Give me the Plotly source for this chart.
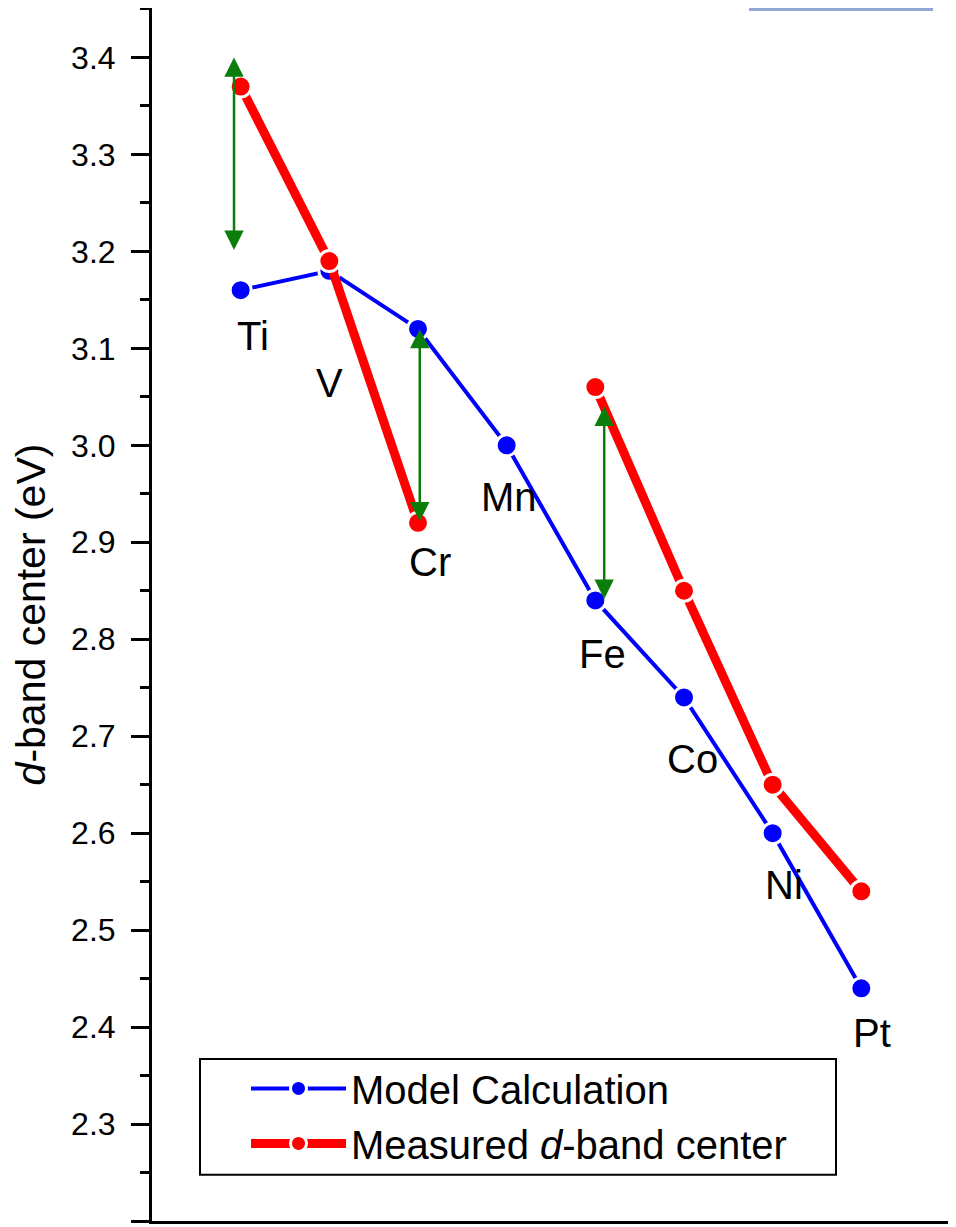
import plotly.graph_objects as go

# ---- data ----
elements = ["Ti", "V", "Cr", "Mn", "Fe", "Co", "Ni", "Pt"]
x_pos = [1, 2, 3, 4, 5, 6, 7, 8]
model_calc = [3.16, 3.18, 3.12, 3.00, 2.84, 2.74, 2.60, 2.44]
measured = [3.37, 3.19, 2.92, None, 3.06, 2.85, 2.65, 2.54]

# double-headed arrows (x, low, high)
arrow_x = [0.925, 3.02, 5.10]
arrow_lo = [3.20, 2.92, 2.84]
arrow_hi = [3.40, 3.12, 3.04]

y_ticks = [2.2, 2.3, 2.4, 2.5, 2.6, 2.7, 2.8, 2.9, 3.0, 3.1, 3.2, 3.3, 3.4]

# label offsets from model point in px (dx, dy downwards)
label_dx = [12, 0, 12, 2, 7, 8, 11, 11]
label_dy = [46, 112, 233, 52, 54, 62, 52, 45]

FONT = "Liberation Sans, Arial, Helvetica, sans-serif"
BLUE = "#0000FF"
RED = "#FF0000"
GREEN = "#0A7D0A"

# page has an 8px body margin; plot area spans window x 152..950, y 8..1213
PL, PR, PT, PB = 152, 950, 8, 1213


def px(X):
    return (X - PL) / (PR - PL)


def py(Y):
    return (PB - Y) / (PB - PT)


fig = go.Figure()

fig.add_trace(go.Scatter(
    x=x_pos, y=model_calc, mode="lines+markers", name="Model Calculation",
    line=dict(color=BLUE, width=4),
    marker=dict(color=BLUE, size=21, line=dict(color="white", width=3)),
))
fig.add_trace(go.Scatter(
    x=x_pos, y=measured, mode="lines+markers", name="Measured <i>d</i>-band center",
    line=dict(color=RED, width=9), connectgaps=False,
    marker=dict(color=RED, size=21, line=dict(color="white", width=3)),
))

annotations = []
for xa, lo, hi in zip(arrow_x, arrow_lo, arrow_hi):
    annotations.append(dict(
        x=xa, y=hi, ax=xa, ay=lo, xref="x", yref="y", axref="x", ayref="y",
        showarrow=True, arrowhead=2, startarrowhead=2, arrowside="end+start",
        arrowwidth=2.5, arrowsize=1.55, startarrowsize=1.55, arrowcolor=GREEN,
        standoff=0, startstandoff=0, text="",
    ))

for name, xv, yv, dx, dy in zip(elements, x_pos, model_calc, label_dx, label_dy):
    annotations.append(dict(
        x=xv, y=yv, xref="x", yref="y", text=name, showarrow=False,
        xshift=dx, yshift=-dy, xanchor="center", yanchor="middle",
        font=dict(family=FONT, size=40, color="black"),
    ))

fig.update_layout(
    width=948, height=1219,
    margin=dict(l=PL - 8, r=956 - 8 - (PR - 8), t=PT - 8, b=1227 - PB - 8),
    paper_bgcolor="white", plot_bgcolor="white",
    showlegend=True,
    legend=dict(
        x=px(246), y=py(1049), xanchor="left", yanchor="top",
        bgcolor="rgba(0,0,0,0)", borderwidth=0,
        font=dict(family=FONT, size=40, color="black"),
        itemwidth=95, tracegroupgap=0,
    ),
    annotations=annotations,
    shapes=[
        dict(type="rect", xref="paper", yref="paper",
             x0=px(200), x1=px(836), y0=py(1167), y1=py(1052),
             fillcolor="white", line=dict(color="black", width=2), layer="below"),
        dict(type="rect", xref="paper", yref="paper",
             x0=px(749), x1=px(933), y0=py(11), y1=1.0,
             fillcolor="#8FA8D0", line=dict(width=0), layer="above"),
    ],
)

fig.update_xaxes(
    range=[0, 9], showgrid=False, zeroline=False, showticklabels=False,
    ticks="", showline=True, linecolor="black", linewidth=3,
)
fig.update_yaxes(
    range=[2.2, 3.451], showgrid=False, zeroline=False,
    tickvals=y_ticks, ticktext=[f"{v:.1f}" for v in y_ticks],
    ticks="outside", ticklen=18, tickwidth=3, tickcolor="black",
    showline=True, linecolor="black", linewidth=3,
    tickfont=dict(family=FONT, size=32, color="black"),
    ticklabelstandoff=9,
    minor=dict(dtick=0.1, tick0=2.25, ticks="outside", ticklen=9, tickwidth=3, tickcolor="black"),
    title=dict(text="<i>d</i>-band center (eV)", font=dict(family=FONT, size=41, color="black"), standoff=20),
)

fig.write_html("out.html")
